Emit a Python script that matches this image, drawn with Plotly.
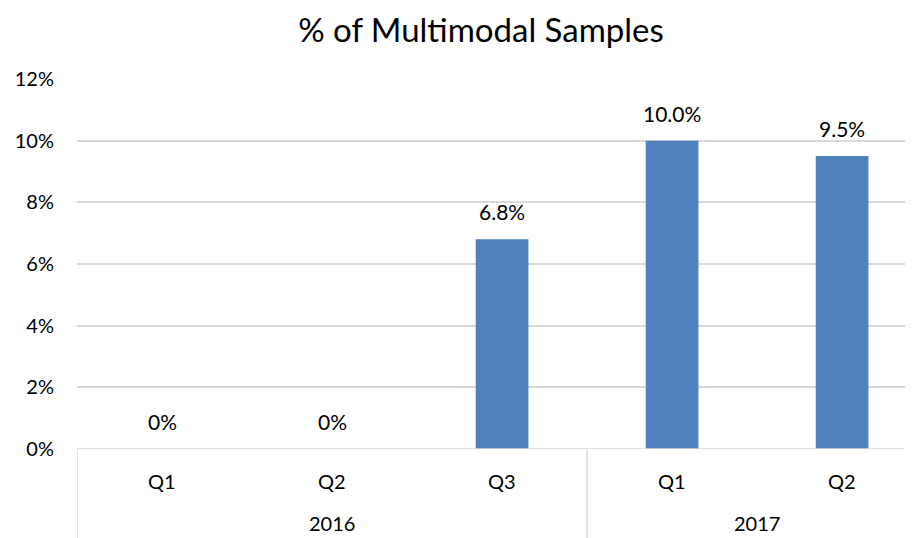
import plotly.graph_objects as go

quarters = ["Q1", "Q2", "Q3", "Q1", "Q2"]
years = ["2016", "2017"]
year_spans = [(0, 2), (3, 4)]
values = [0.0, 0.0, 6.8, 10.0, 9.5]
labels = ["0%", "0%", "6.8%", "10.0%", "9.5%"]
yticks = [0, 2, 4, 6, 8, 10, 12]

xs = list(range(len(quarters)))
font = "Lato, 'Open Sans', sans-serif"

fig = go.Figure()
fig.add_trace(go.Bar(x=xs, y=values, width=0.31, marker=dict(color="#4f81bd", line=dict(width=0)),
                     hoverinfo="skip"))

for x, v, t in zip(xs, values, labels):
    fig.add_annotation(x=x, y=v, text=t, showarrow=False, yanchor="bottom", yshift=13,
                       font=dict(size=21, color="#000000", family=font))

for x, q in zip(xs, quarters):
    fig.add_annotation(x=x, y=-0.087, xref="x", yref="paper", text=q, showarrow=False,
                       yanchor="middle", font=dict(size=20, color="#000000", family=font))

for (a, b), yr in zip(year_spans, years):
    fig.add_annotation(x=(a + b) / 2, y=-0.2, xref="x", yref="paper", text=yr, showarrow=False,
                       yanchor="middle", font=dict(size=20, color="#000000", family=font))

# separators
for xv in [-0.5, 2.5]:
    fig.add_shape(type="line", x0=xv, x1=xv, y0=0, y1=-0.25, xref="x", yref="paper",
                  line=dict(color="#d9d9d9", width=1.5))
fig.add_shape(type="line", x0=-0.5, x1=4.37, y0=0, y1=0, xref="x", yref="y",
              line=dict(color="#d9d9d9", width=1.5))

fig.update_layout(
    width=907, height=530,
    margin=dict(l=69, r=10, t=71, b=89, autoexpand=False),
    paper_bgcolor="white", plot_bgcolor="white",
    showlegend=False,
    title=dict(text="% of Multimodal Samples", x=0.5215, xanchor="center", y=0.958, yanchor="middle",
               font=dict(size=33, color="#000000", family=font)),
    xaxis=dict(range=[-0.5, 4.37], showticklabels=False, showgrid=False, zeroline=False,
               showline=False, ticks="", fixedrange=True, automargin=False),
    yaxis=dict(range=[0, 12], tickvals=yticks, ticktext=[f"{t}%" for t in yticks],
               showgrid=True, gridcolor="#d9d9d9", gridwidth=1.5, zeroline=False, showline=False,
               ticks="", ticklabelstandoff=22, automargin=False,
               tickfont=dict(size=20, color="#000000", family=font), fixedrange=True),
)

fig.write_html("out.html")
